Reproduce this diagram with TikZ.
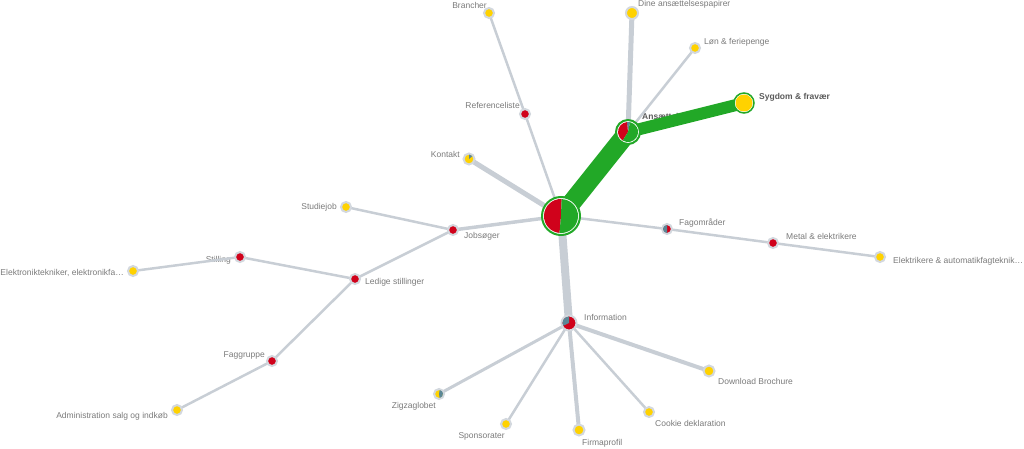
\documentclass[tikz,border=0pt]{standalone}
\usepackage{fontspec}
\setmainfont{Liberation Sans}

\definecolor{gron}{HTML}{22A827}
\definecolor{rod}{HTML}{D0021B}
\definecolor{gul}{HTML}{FFD200}
\definecolor{skifer}{HTML}{5B8796}
\definecolor{ringgraa}{HTML}{D3D8DE}
\definecolor{kantgraa}{HTML}{C8CED5}
\definecolor{tekstgraa}{HTML}{7A7A7A}
\definecolor{moerkgraa}{HTML}{5A5A5A}

\pgfdeclarelayer{tekst}
\pgfdeclarelayer{kanter}
\pgfsetlayers{tekst,kanter,main}

% lagkage-stykke: node, radius, fra, til, farve
\newcommand{\skive}[5]{\fill[#5] (#1.center) -- ++(#3:#2pt) arc[start angle=#3, end angle=#4, radius=#2pt] -- cycle;}

\begin{document}
\begin{tikzpicture}[x=1pt, y=1pt,
    blad/.style={circle, draw=ringgraa, line width=2pt, fill=#1, minimum size=10pt, inner sep=0pt},
    hoved/.style={circle, draw=gron, line width=2pt, fill=white, minimum size=#1, inner sep=0pt},
    lbl/.style={font=\fontsize{8.5}{10}\selectfont, text=tekstgraa, inner sep=0pt},
    fed/.style={font=\fontsize{8.5}{10}\selectfont\bfseries, text=moerkgraa, inner sep=0pt},
    kant/.style={draw=kantgraa, line width=#1pt},
    kant/.default=2.5,
    groen/.style={draw=gron, line width=#1pt}]
    \useasboundingbox (0,0) rectangle (1024,448);

    % Rod og Ansaettelse
    \node (root) at (561,232) [hoved=38pt] {};
    \node (ans) at (628,316) [hoved=24pt] {};
    \node (syg) at (744,345) [hoved=20pt, line width=1.5pt] {};
    \fill[gul] (syg.center) circle (8.5pt);
    \node (dine) at (632,435) [blad=gul, minimum size=12pt] {};
    \node (lon) at (695,400) [blad=gul] {};

    % Referencer og kontakt
    \node (ref) at (525,334) [blad=rod] {};
    \node (bra) at (489,435) [blad=gul] {};
    \node (kon) at (469,289) [blad=gul, minimum size=11pt] {};

    % Jobsoeger
    \node (job) at (453,218) [blad=rod] {};
    \node (stu) at (346,241) [blad=gul] {};
    \node (led) at (355,169) [blad=rod] {};
    \node (sti) at (240,191) [blad=rod] {};
    \node (ele) at (133,177) [blad=gul] {};
    \node (fag) at (272,87) [blad=rod] {};
    \node (adm) at (177,38) [blad=gul] {};

    % Fagomraader
    \node (fom) at (667,219) [blad=rod] {};
    \node (met) at (773,205) [blad=rod] {};
    \node (elk) at (880,191) [blad=gul] {};

    % Information
    \node (inf) at (569,125) [blad=rod, minimum size=15pt] {};
    \node (zig) at (439,54) [blad=gul] {};
    \node (spo) at (506,24) [blad=gul] {};
    \node (fir) at (579,18) [blad=gul, minimum size=11pt] {};
    \node (coo) at (649,36) [blad=gul] {};
    \node (dow) at (709,77) [blad=gul, minimum size=11pt] {};

    % Lagkager
    \skive{root}{17}{88}{265}{rod}
    \skive{root}{17}{265}{448}{gron}
    \skive{ans}{10}{78}{96}{skifer}
    \skive{ans}{10}{96}{238}{rod}
    \skive{ans}{10}{238}{438}{gron}
    \skive{kon}{4.5}{40}{90}{skifer}
    \skive{fom}{4}{90}{270}{skifer}
    \skive{inf}{6.5}{90}{205}{skifer}
    \skive{zig}{4}{280}{440}{skifer}

    % Tekster
    \begin{pgfonlayer}{tekst}
        \node (t-ans) at ([shift={(14,15.5)}]ans.center) [fed, anchor=west] {Ansættelse};
        \node (t-syg) at ([shift={(15,6)}]syg.center) [fed, anchor=west] {Sygdom \& fravær};
        \node (t-dine) at ([shift={(6,9)}]dine.center) [lbl, anchor=west] {Dine ansættelsespapirer};
        \node (t-lon) at ([shift={(9,6)}]lon.center) [lbl, anchor=west] {Løn \& feriepenge};
        \node (t-bra) at ([shift={(-2,8)}]bra.center) [lbl, anchor=east] {Brancher};
        \node (t-ref) at ([shift={(-5,9)}]ref.center) [lbl, anchor=east] {Referenceliste};
        \node (t-kon) at ([shift={(-9,5)}]kon.center) [lbl, anchor=east] {Kontakt};
        \node (t-stu) at ([shift={(-9,0)}]stu.center) [lbl, anchor=east] {Studiejob};
        \node (t-job) at ([shift={(11,-6)}]job.center) [lbl, anchor=west] {Jobsøger};
        \node (t-led) at ([shift={(10,-3)}]led.center) [lbl, anchor=west] {Ledige stillinger};
        \node (t-sti) at ([shift={(-9,-3)}]sti.center) [lbl, anchor=east] {Stilling};
        \node (t-ele) at ([shift={(-9,-2)}]ele.center) [lbl, anchor=east] {Elektroniktekniker, elektronikfa…};
        \node (t-fag) at ([shift={(-7,6)}]fag.center) [lbl, anchor=east] {Faggruppe};
        \node (t-adm) at ([shift={(-9,-6)}]adm.center) [lbl, anchor=east] {Administration salg og indkøb};
        \node (t-fom) at ([shift={(12,6)}]fom.center) [lbl, anchor=west] {Fagområder};
        \node (t-met) at ([shift={(13,7)}]met.center) [lbl, anchor=west] {Metal \& elektrikere};
        \node (t-elk) at ([shift={(13,-4)}]elk.center) [lbl, anchor=west] {Elektrikere \& automatikfagteknik…};
        \node (t-inf) at ([shift={(15,6)}]inf.center) [lbl, anchor=west] {Information};
        \node (t-zig) at ([shift={(-3,-12)}]zig.center) [lbl, anchor=east] {Zigzaglobet};
        \node (t-spo) at ([shift={(-1,-12)}]spo.center) [lbl, anchor=east] {Sponsorater};
        \node (t-fir) at ([shift={(3,-13)}]fir.center) [lbl, anchor=west] {Firmaprofil};
        \node (t-coo) at ([shift={(6,-11)}]coo.center) [lbl, anchor=west] {Cookie deklaration};
        \node (t-dow) at ([shift={(9,-10)}]dow.center) [lbl, anchor=west] {Download Brochure};
    \end{pgfonlayer}

    % Kanter
    \begin{pgfonlayer}{kanter}
        \draw[kant] (root.center) -- (ref.center);
        \draw[kant] (ref.center) -- (bra.center);
        \draw[kant=5] (root.center) -- (kon.center);
        \draw[kant=3.5] (root.center) -- (job.center);
        \draw[kant] (job.center) -- (stu.center);
        \draw[kant] (job.center) -- (led.center);
        \draw[kant] (led.center) -- (sti.center);
        \draw[kant] (sti.center) -- (ele.center);
        \draw[kant] (led.center) -- (fag.center);
        \draw[kant] (fag.center) -- (adm.center);
        \draw[kant] (root.center) -- (fom.center);
        \draw[kant] (fom.center) -- (met.center);
        \draw[kant] (met.center) -- (elk.center);
        \draw[kant=8] (root.center) -- (inf.center);
        \draw[kant=3] (inf.center) -- (zig.center);
        \draw[kant] (inf.center) -- (spo.center);
        \draw[kant=4] (inf.center) -- (fir.center);
        \draw[kant] (inf.center) -- (coo.center);
        \draw[kant=4] (inf.center) -- (dow.center);
        \draw[kant=5] (ans.center) -- (dine.center);
        \draw[kant] (ans.center) -- (lon.center);
        \draw[groen=19] (root.center) -- (ans.center);
        \draw[groen=12] (ans.center) -- (syg.center);
    \end{pgfonlayer}
\end{tikzpicture}
\end{document}
